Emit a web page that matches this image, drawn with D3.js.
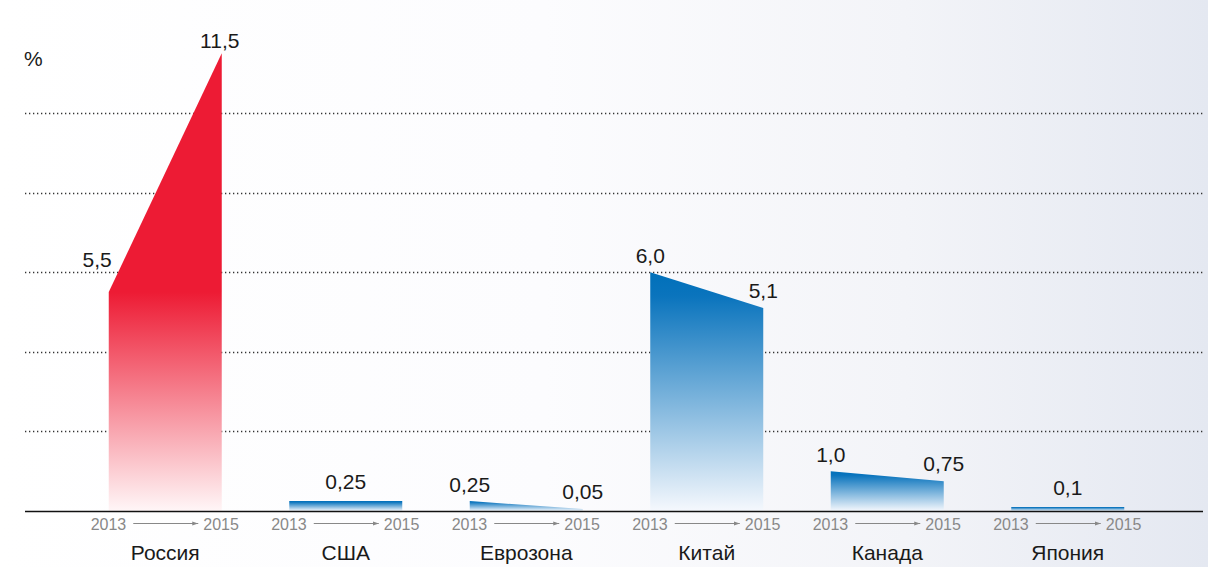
<!DOCTYPE html>
<html>
<head>
<meta charset="utf-8">
<script src="https://cdn.jsdelivr.net/npm/d3@7"></script>
<style>
  body { margin: 0; background: #fff; }
  svg { display: block; font-family: "Liberation Sans", Arial, sans-serif; }
</style>
</head>
<body>
<div id="chartRegion"></div>
<script>
/* chart data */
var countries = ["Россия", "США", "Еврозона", "Китай", "Канада", "Япония"];
var rate2013 = [5.5, 0.25, 0.25, 6.0, 1.0, 0.1];
var rate2015 = [11.5, 0.25, 0.05, 5.1, 0.75, 0.1];
var labels2013 = ["5,5", "0,25", "0,25", "6,0", "1,0", "0,1"];
var labels2015 = ["11,5", "0,25", "0,05", "5,1", "0,75", "0,1"];
var years = ["2013", "2015"];
var gridValues = [2, 4, 6, 8, 10];

var width = 1208, height = 567;
var baseY = 511;

var svg = d3.select("#chartRegion").append("svg")
  .attr("width", width).attr("height", height);

var defs = svg.append("defs");

/* background fades to a cool grey on the right */
var bg = defs.append("linearGradient").attr("id", "bgGrad")
  .attr("x1", 0).attr("x2", 1).attr("y1", 0).attr("y2", 0);
bg.append("stop").attr("offset", "0%").attr("stop-color", "#ffffff");
bg.append("stop").attr("offset", "45%").attr("stop-color", "#fcfcfe");
bg.append("stop").attr("offset", "75%").attr("stop-color", "#f3f4f8");
bg.append("stop").attr("offset", "100%").attr("stop-color", "#e4e8f1");
svg.append("rect").attr("width", width).attr("height", height).attr("fill", "url(#bgGrad)");

var x = d3.scaleBand().domain(countries).range([75, 1158])
  .paddingInner(0.374).paddingOuter(0.187);
var y = d3.scaleLinear().domain([0, 10]).range([baseY, 113]);

/* gradients: red one in user space (solid top part), blue per shape */
var red = defs.append("linearGradient").attr("id", "redGrad")
  .attr("gradientUnits", "userSpaceOnUse")
  .attr("x1", 0).attr("x2", 0).attr("y1", y(rate2013[0])).attr("y2", baseY);
red.append("stop").attr("offset", "0%").attr("stop-color", "#ed1b34");
red.append("stop").attr("offset", "100%").attr("stop-color", "#fff6f7");

var blue = defs.append("linearGradient").attr("id", "blueGrad")
  .attr("x1", 0).attr("x2", 0).attr("y1", 0).attr("y2", 1);
blue.append("stop").attr("offset", "0%").attr("stop-color", "#0070ba");
blue.append("stop").attr("offset", "10%").attr("stop-color", "#0a74bd");
blue.append("stop").attr("offset", "100%").attr("stop-color", "#f5f8fd");

/* dotted grid */
svg.append("g").selectAll("line").data(gridValues).enter().append("line")
  .attr("x1", 25).attr("x2", 1203)
  .attr("y1", function(d) { return Math.round(y(d)) + 0.5; })
  .attr("y2", function(d) { return Math.round(y(d)) + 0.5; })
  .attr("stroke", "#333").attr("stroke-width", 1.3)
  .attr("stroke-dasharray", "1.3,2.7");

var rows = countries.map(function(c, i) {
  return { name: c, v0: rate2013[i], v1: rate2015[i], l0: labels2013[i], l1: labels2015[i], i: i };
});

var line = d3.line();
var g = svg.append("g");

g.selectAll("path.shape").data(rows).enter().append("path")
  .attr("class", "shape")
  .attr("d", function(d) {
    var x0 = x(d.name), x1 = x0 + x.bandwidth();
    return line([[x0, baseY], [x0, y(d.v0)], [x1, y(d.v1)], [x1, baseY]]) + "Z";
  })
  .attr("fill", function(d) { return d.i === 0 ? "url(#redGrad)" : "url(#blueGrad)"; });

/* baseline */
svg.append("line").attr("x1", 25).attr("x2", 1203)
  .attr("y1", baseY + 0.5).attr("y2", baseY + 0.5)
  .attr("stroke", "#111").attr("stroke-width", 1.3);

/* value labels */
rows.forEach(function(d) {
  var x0 = x(d.name), x1 = x0 + x.bandwidth(), cx = x0 + x.bandwidth() / 2;
  var t = svg.append("g").attr("font-size", 21).attr("fill", "#1a1a1a");
  if (d.v0 === d.v1) {
    t.append("text").attr("x", cx).attr("y", y(d.v0) - 12)
      .attr("text-anchor", "middle").text(d.l0);
  } else if (d.v1 > d.v0) {
    t.append("text").attr("x", x0 + 3).attr("y", y(d.v0) - 25)
      .attr("text-anchor", "end").text(d.l0);
    t.append("text").attr("x", x1 - 2).attr("y", y(d.v1) - 5)
      .attr("text-anchor", "middle").text(d.l1);
  } else {
    t.append("text").attr("x", x0).attr("y", y(d.v0) - 9)
      .attr("text-anchor", "middle").text(d.l0);
    t.append("text").attr("x", x1).attr("y", y(d.v1) - 10)
      .attr("text-anchor", "middle").text(d.l1);
  }
});

/* year arrows under each shape */
defs.append("marker").attr("id", "arrowHead")
  .attr("viewBox", "0 0 10 10").attr("refX", 10).attr("refY", 5)
  .attr("markerWidth", 6).attr("markerHeight", 6).attr("markerUnits", "userSpaceOnUse")
  .attr("orient", "auto")
  .append("path").attr("d", "M0,1.5L10,5L0,8.5Z").attr("fill", "#888");

var yr = svg.append("g").selectAll("g").data(rows).enter().append("g")
  .attr("transform", function(d) { return "translate(" + (x(d.name) + x.bandwidth() / 2) + ",0)"; });
yr.append("text").attr("x", -39).attr("y", 530).attr("text-anchor", "end")
  .attr("font-size", 16).attr("fill", "#888").text(years[0]);
yr.append("text").attr("x", 38).attr("y", 530).attr("text-anchor", "start")
  .attr("font-size", 16).attr("fill", "#888").text(years[1]);
yr.append("line").attr("x1", -32).attr("x2", 33).attr("y1", 523.5).attr("y2", 523.5)
  .attr("stroke", "#888").attr("stroke-width", 1).attr("marker-end", "url(#arrowHead)");

/* country names */
svg.append("g").selectAll("text").data(rows).enter().append("text")
  .attr("x", function(d) { return x(d.name) + x.bandwidth() / 2; })
  .attr("y", 560).attr("text-anchor", "middle")
  .attr("font-size", 21).attr("fill", "#1a1a1a")
  .text(function(d) { return d.name; });

/* unit */
svg.append("text").attr("x", 24).attr("y", 66).attr("font-size", 21)
  .attr("fill", "#1a1a1a").text("%");
</script>
</body>
</html>
